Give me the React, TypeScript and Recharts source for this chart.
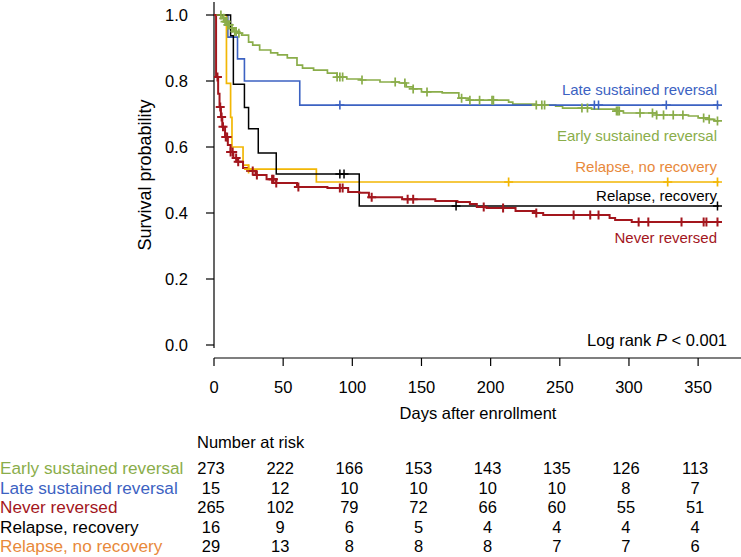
import React from 'react';
import { ComposedChart, Line, XAxis, YAxis, ReferenceLine } from 'recharts';

// Kaplan-Meier steps (day, survival) and censoring days
const earlyDays = [0, 6, 8, 10, 12, 14, 17, 20, 25, 28, 33, 41, 46, 53, 60, 64, 72, 82, 89, 96, 106, 120, 134, 139, 144, 150, 165, 177, 184, 213, 216, 233, 247, 252, 273, 290, 296, 320, 343, 350, 358, 362, 365];
const earlySurv = [1, 0.99, 0.98, 0.97, 0.96, 0.95, 0.945, 0.939, 0.918, 0.909, 0.894, 0.885, 0.879, 0.87, 0.848, 0.839, 0.833, 0.824, 0.812, 0.806, 0.803, 0.797, 0.794, 0.782, 0.776, 0.767, 0.764, 0.748, 0.742, 0.736, 0.73, 0.727, 0.724, 0.718, 0.715, 0.709, 0.703, 0.697, 0.694, 0.688, 0.684, 0.679, 0.679];
const earlyCensored = [5, 7, 8, 9, 10, 11, 13, 15, 16, 18, 89, 91, 93, 107, 131, 138, 144, 154, 179, 185, 192, 201, 202, 233, 237, 239, 266, 270, 291, 292, 293, 308, 317, 320, 325, 332, 339, 354, 358, 364];

const lateDays = [0, 10, 17, 22, 62, 365];
const lateSurv = [1, 0.933, 0.867, 0.8, 0.727, 0.727];
const lateCensored = [91, 275, 278, 327, 364];

const neverDays = [0, 1.5, 3, 4, 5, 6, 8, 10, 12, 14, 17, 21, 24, 30, 38, 45, 60, 82, 97, 105, 112, 136, 160, 176, 185, 190, 197, 218, 232, 238, 286, 290, 302, 365];
const neverSurv = [1, 0.812, 0.761, 0.721, 0.691, 0.661, 0.63, 0.606, 0.585, 0.567, 0.555, 0.536, 0.527, 0.515, 0.502, 0.491, 0.479, 0.476, 0.464, 0.461, 0.448, 0.442, 0.436, 0.433, 0.427, 0.418, 0.415, 0.406, 0.4, 0.394, 0.385, 0.379, 0.373, 0.373];
const neverCensored = [2.5, 4.5, 5.5, 6.5, 8.5, 9.5, 12, 13.5, 16, 17.5, 28, 31, 42, 43, 45, 61, 91, 93, 114, 140, 144, 195, 209, 233, 260, 272, 278, 307, 314, 338, 354, 356, 364];

const recovDays = [0, 12, 14, 22, 25, 32, 45, 105, 365];
const recovSurv = [1, 0.9375, 0.79, 0.72, 0.655, 0.582, 0.518, 0.421, 0.421];
const recovCensored = [91, 94, 175, 364];

const noRecovDays = [0, 9, 12, 13, 21, 25, 74, 365];
const noRecovSurv = [1, 0.793, 0.69, 0.6, 0.545, 0.533, 0.494, 0.494];
const noRecovCensored = [25, 213, 328, 364];

const groupNames = ['Early sustained reversal', 'Late sustained reversal', 'Never reversed', 'Relapse, recovery', 'Relapse, no recovery'];
const riskDays = [0, 50, 100, 150, 200, 250, 300, 350];
const riskEarly = [273, 222, 166, 153, 143, 135, 126, 113];
const riskLate = [15, 12, 10, 10, 10, 10, 8, 7];
const riskNever = [265, 102, 79, 72, 66, 60, 55, 51];
const riskRecov = [16, 9, 6, 5, 4, 4, 4, 4];
const riskNoRecov = [29, 13, 8, 8, 8, 7, 7, 6];
const yTicks = [0, 0.2, 0.4, 0.6, 0.8, 1.0];

const FONT = 'Liberation Sans, Arial, Helvetica, sans-serif';
const GREEN = '#8aad4a';
const BLUE = '#3c62c2';
const RED = '#a3161d';
const BLACK = '#000000';
const GOLD = '#f2b705';
const ORANGE = '#e8893b';

type Pt = { day: number; s: number; c: boolean };

function buildCurve(days: number[], surv: number[], cens: number[]): Pt[] {
    const pts: Pt[] = days.map((d, i) => ({ day: d, s: surv[i], c: false }));
    cens.forEach(d => {
        let s = surv[0];
        days.forEach((sd, i) => { if (sd <= d) s = surv[i]; });
        pts.push({ day: d, s, c: true });
    });
    return pts.sort((a, b) => a.day - b.day || (a.c ? 1 : 0) - (b.c ? 1 : 0));
}

const curves = [
    { key: 'early', color: GREEN, width: 1.7, data: buildCurve(earlyDays, earlySurv, earlyCensored) },
    { key: 'late', color: BLUE, width: 1.6, data: buildCurve(lateDays, lateSurv, lateCensored) },
    { key: 'norecov', color: GOLD, width: 1.7, data: buildCurve(noRecovDays, noRecovSurv, noRecovCensored) },
    { key: 'recov', color: BLACK, width: 1.5, data: buildCurve(recovDays, recovSurv, recovCensored) },
    { key: 'never', color: RED, width: 2, data: buildCurve(neverDays, neverSurv, neverCensored) },
];

const riskRows = [
    { name: groupNames[0], color: GREEN, values: riskEarly },
    { name: groupNames[1], color: BLUE, values: riskLate },
    { name: groupNames[2], color: RED, values: riskNever },
    { name: groupNames[3], color: BLACK, values: riskRecov },
    { name: groupNames[4], color: ORANGE, values: riskNoRecov },
];

// layout (px)
const PLOT_LEFT = 214;
const PX_PER_DAY = (741 - PLOT_LEFT) / 381;

function censorDot(color: string, width: number) {
    return (props: any) => {
        const { cx, cy, payload, index } = props;
        if (!payload || !payload.c || cx == null || cy == null) return <g key={`n${index}`} />;
        const h = 4.5;
        return (
            <path
                key={`c${index}`}
                d={`M${cx - h},${cy}H${cx + h}M${cx},${cy - h}V${cy + h}`}
                stroke={color}
                strokeWidth={width}
                fill="none"
            />
        );
    };
}

export default function App() {
    return (
        <div style={{ position: 'relative', width: 741, height: 557, background: '#fff', fontFamily: FONT }}>
            <style>{'body{margin:0}'}</style>
            <ComposedChart width={741} height={400} margin={{ top: 2, right: 0, left: 0, bottom: 0 }}>
                <XAxis
                    dataKey="day"
                    type="number"
                    domain={[0, 381]}
                    ticks={riskDays}
                    allowDataOverflow
                    height={42}
                    tickSize={8}
                    tickMargin={15}
                    axisLine={{ stroke: '#000', strokeWidth: 1.2 }}
                    tickLine={{ stroke: '#000', strokeWidth: 1.2 }}
                    tick={{ fontSize: 16.5, fill: '#000', fontFamily: FONT }}
                />
                <YAxis
                    type="number"
                    domain={[-0.0394, 1.0394]}
                    ticks={yTicks}
                    allowDataOverflow
                    width={PLOT_LEFT}
                    tickSize={8}
                    tickMargin={18}
                    axisLine={false}
                    tickLine={{ stroke: '#000', strokeWidth: 1.2 }}
                    tickFormatter={(v: number) => v.toFixed(1)}
                    tick={{ fontSize: 16.5, fill: '#000', fontFamily: FONT }}
                />
                <ReferenceLine
                    segment={[{ x: 0, y: -0.009 }, { x: 0, y: 1.0394 }]}
                    stroke="#000"
                    strokeWidth={1.2}
                    ifOverflow="visible"
                />
                {curves.map(c => (
                    <Line
                        key={c.key}
                        data={c.data}
                        dataKey="s"
                        type="stepAfter"
                        stroke={c.color}
                        strokeWidth={c.width}
                        dot={censorDot(c.color, c.width)}
                        activeDot={false}
                        isAnimationActive={false}
                    />
                ))}
            </ComposedChart>
            <svg width={741} height={557} style={{ position: 'absolute', left: 0, top: 0, pointerEvents: 'none' }} fontFamily={FONT}>
                <text x={145} y={175} fontSize={18} textAnchor="middle" dominantBaseline="central" transform="rotate(-90 145 175)">
                    Survival probability
                </text>
                <text x={478} y={413} fontSize={16.5} textAnchor="middle" dominantBaseline="central">Days after enrollment</text>
                <text x={727} y={340} fontSize={16.5} textAnchor="end" dominantBaseline="central">
                    Log rank <tspan fontStyle="italic">P</tspan> {'< 0.001'}
                </text>
                <text x={717} y={89} fontSize={15} fill={BLUE} textAnchor="end" dominantBaseline="central">Late sustained reversal</text>
                <text x={717} y={135} fontSize={15} fill={GREEN} textAnchor="end" dominantBaseline="central">Early sustained reversal</text>
                <text x={717} y={166} fontSize={15} fill={ORANGE} textAnchor="end" dominantBaseline="central">Relapse, no recovery</text>
                <text x={717} y={195} fontSize={15} fill={BLACK} textAnchor="end" dominantBaseline="central">Relapse, recovery</text>
                <text x={717} y={237} fontSize={15} fill={RED} textAnchor="end" dominantBaseline="central">Never reversed</text>
                <text x={197} y={442} fontSize={16.5} dominantBaseline="central">Number at risk</text>
                {riskRows.map((r, ri) => {
                    const y = 468 + ri * 19.5;
                    return (
                        <g key={r.name}>
                            <text x={0} y={y} fontSize={17.2} fill={r.color} dominantBaseline="central">{r.name}</text>
                            {r.values.map((v, i) => (
                                <text key={i} x={PLOT_LEFT + riskDays[i] * PX_PER_DAY - 3} y={y} fontSize={16.5} textAnchor="middle" dominantBaseline="central">
                                    {v}
                                </text>
                            ))}
                        </g>
                    );
                })}
            </svg>
        </div>
    );
}
